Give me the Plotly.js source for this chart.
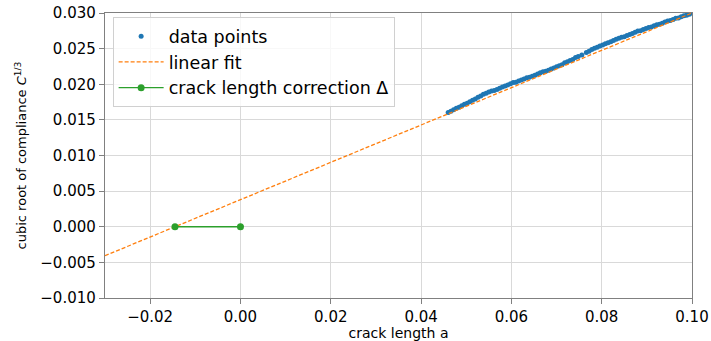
<!DOCTYPE html>
<html>
<head>
<meta charset="utf-8">
<script src="https://cdn.plot.ly/plotly-3.0.1.min.js"></script>
<style>html,body{margin:0;padding:0;background:#fff;}#chart{width:711px;height:341px;}</style>
</head>
<body>
<div id="chart"></div>
<script>
const dataX = [0.0460,0.0466,0.0472,0.0478,0.0484,0.0490,0.0496,0.0502,0.0508,0.0514,0.0520,0.0526,0.0532,0.0538,0.0544,0.0550,0.0556,0.0562,0.0568,0.0574,0.0580,0.0586,0.0592,0.0598,0.0604,0.0610,0.0616,0.0622,0.0628,0.0634,0.0640,0.0646,0.0652,0.0658,0.0664,0.0670,0.0676,0.0682,0.0688,0.0694,0.0700,0.0706,0.0712,0.0718,0.0724,0.0730,0.0736,0.0742,0.0748,0.0756,0.0766,0.0772,0.0778,0.0784,0.0790,0.0796,0.0802,0.0808,0.0814,0.0820,0.0826,0.0832,0.0838,0.0844,0.0850,0.0856,0.0862,0.0868,0.0874,0.0880,0.0886,0.0892,0.0898,0.0904,0.0910,0.0916,0.0922,0.0928,0.0934,0.0940,0.0946,0.0952,0.0958,0.0964,0.0970,0.0976,0.0982,0.0988,0.0994,0.1000];
const dataY = [0.01605,0.01621,0.01642,0.01662,0.01678,0.01699,0.01720,0.01735,0.01756,0.01777,0.01792,0.01818,0.01834,0.01860,0.01875,0.01891,0.01907,0.01912,0.01928,0.01944,0.01960,0.01975,0.01991,0.02007,0.02023,0.02028,0.02044,0.02060,0.02075,0.02091,0.02097,0.02113,0.02128,0.02144,0.02160,0.02175,0.02181,0.02197,0.02213,0.02228,0.02244,0.02260,0.02275,0.02301,0.02317,0.02333,0.02348,0.02374,0.02390,0.02412,0.02447,0.02463,0.02488,0.02504,0.02520,0.02536,0.02551,0.02567,0.02583,0.02598,0.02614,0.02630,0.02646,0.02661,0.02667,0.02683,0.02698,0.02714,0.02730,0.02746,0.02751,0.02767,0.02783,0.02798,0.02804,0.02820,0.02836,0.02841,0.02857,0.02873,0.02889,0.02894,0.02910,0.02926,0.02931,0.02947,0.02963,0.02969,0.02984,0.03000];
const fitX = [-0.03, 0.10];
const fitY = [-0.00406, 0.03000];
const corrX = [-0.0145, 0.0];
const corrY = [0.0, 0.0];

const font = 'DejaVu Sans, sans-serif';
const traces = [
  {x: dataX, y: dataY, type: 'scatter', mode: 'markers', name: 'data points',
   marker: {color: '#1f77b4', size: 5}},
  {x: fitX, y: fitY, type: 'scatter', mode: 'lines', name: 'linear fit',
   line: {color: '#ff7f0e', width: 1.3, dash: '4px,2px'}},
  {x: corrX, y: corrY, type: 'scatter', mode: 'lines+markers', name: 'crack length correction Δ',
   line: {color: '#2ca02c', width: 1.3}, marker: {color: '#2ca02c', size: 7}}
];
const axisCommon = {
  showline: true, mirror: true, linecolor: '#808080', linewidth: 1.2,
  ticks: 'outside', ticklen: 5, tickcolor: '#808080',
  showgrid: true, gridcolor: '#d9d9d9', gridwidth: 1, zeroline: false,
  tickfont: {family: font, size: 15, color: '#000'}
};
const layout = {
  width: 711, height: 341,
  margin: {l: 105, r: 19, t: 13, b: 43},
  paper_bgcolor: '#fff', plot_bgcolor: '#fff',
  showlegend: true,
  legend: {x: 0.013, y: 0.985, xanchor: 'left', yanchor: 'top',
    bgcolor: 'rgba(255,255,255,0.8)', bordercolor: '#d0d0d0', borderwidth: 1,
    font: {family: font, size: 17.5, color: '#000'}, tracegroupgap: 6, itemwidth: 45},
  xaxis: Object.assign({}, axisCommon, {
    range: [-0.03, 0.10], tickvals: [-0.02, 0, 0.02, 0.04, 0.06, 0.08, 0.10],
    tickformat: '.2f',
    title: {text: 'crack length a', font: {family: font, size: 14, color: '#000'}, standoff: 3}
  }),
  yaxis: Object.assign({}, axisCommon, {
    range: [-0.010, 0.030], dtick: 0.005, tickformat: '.3f',
    title: {text: 'cubic root of compliance <i>C</i><sup>1/3</sup>', font: {family: font, size: 13, color: '#000'}, standoff: 10}
  })
};
Plotly.newPlot('chart', traces, layout, {displayModeBar: false, staticPlot: true});
</script>
</body>
</html>
